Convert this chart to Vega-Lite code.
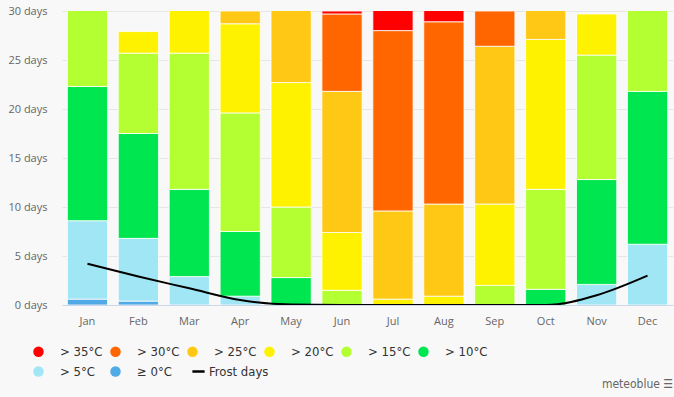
{
  "$schema": "https://vega.github.io/schema/vega-lite/v6.json",
  "width": 611,
  "height": 294,
  "autosize": {"type": "none"},
  "padding": {"left": 62, "top": 11, "right": 1, "bottom": 92},
  "background": "#f8f8f8",
  "title": {"text": "meteoblue ☰", "orient": "bottom", "anchor": "end", "fontSize": 12, "fontWeight": "normal", "color": "#666666", "font": "DejaVu Sans Condensed", "offset": 0},
  "config": {
    "view": {"stroke": null},
    "axis": {"labelFont": "Open Sans", "labelFontSize": 11, "labelColor": "#666666"}
  },
  "datasets": {
    "bars": [
      {"month": "Jan", "cat": "≥ 0°C", "ord": 0, "days": 0.6},
      {"month": "Jan", "cat": "> 5°C", "ord": 1, "days": 8.0},
      {"month": "Jan", "cat": "> 10°C", "ord": 2, "days": 13.7},
      {"month": "Jan", "cat": "> 15°C", "ord": 3, "days": 8.7},
      {"month": "Feb", "cat": "≥ 0°C", "ord": 0, "days": 0.4},
      {"month": "Feb", "cat": "> 5°C", "ord": 1, "days": 6.4},
      {"month": "Feb", "cat": "> 10°C", "ord": 2, "days": 10.7},
      {"month": "Feb", "cat": "> 15°C", "ord": 3, "days": 8.2},
      {"month": "Feb", "cat": "> 20°C", "ord": 4, "days": 2.2},
      {"month": "Mar", "cat": "> 5°C", "ord": 1, "days": 2.9},
      {"month": "Mar", "cat": "> 10°C", "ord": 2, "days": 8.9},
      {"month": "Mar", "cat": "> 15°C", "ord": 3, "days": 13.9},
      {"month": "Mar", "cat": "> 20°C", "ord": 4, "days": 5.3},
      {"month": "Apr", "cat": "> 5°C", "ord": 1, "days": 0.9},
      {"month": "Apr", "cat": "> 10°C", "ord": 2, "days": 6.6},
      {"month": "Apr", "cat": "> 15°C", "ord": 3, "days": 12.1},
      {"month": "Apr", "cat": "> 20°C", "ord": 4, "days": 9.1},
      {"month": "Apr", "cat": "> 25°C", "ord": 5, "days": 1.3},
      {"month": "May", "cat": "> 10°C", "ord": 2, "days": 2.8},
      {"month": "May", "cat": "> 15°C", "ord": 3, "days": 7.2},
      {"month": "May", "cat": "> 20°C", "ord": 4, "days": 12.7},
      {"month": "May", "cat": "> 25°C", "ord": 5, "days": 8.3},
      {"month": "Jun", "cat": "> 15°C", "ord": 3, "days": 1.5},
      {"month": "Jun", "cat": "> 20°C", "ord": 4, "days": 5.9},
      {"month": "Jun", "cat": "> 25°C", "ord": 5, "days": 14.4},
      {"month": "Jun", "cat": "> 30°C", "ord": 6, "days": 7.9},
      {"month": "Jun", "cat": "> 35°C", "ord": 7, "days": 0.3},
      {"month": "Jul", "cat": "> 20°C", "ord": 4, "days": 0.6},
      {"month": "Jul", "cat": "> 25°C", "ord": 5, "days": 9.0},
      {"month": "Jul", "cat": "> 30°C", "ord": 6, "days": 18.4},
      {"month": "Jul", "cat": "> 35°C", "ord": 7, "days": 3.0},
      {"month": "Aug", "cat": "> 20°C", "ord": 4, "days": 0.9},
      {"month": "Aug", "cat": "> 25°C", "ord": 5, "days": 9.4},
      {"month": "Aug", "cat": "> 30°C", "ord": 6, "days": 18.6},
      {"month": "Aug", "cat": "> 35°C", "ord": 7, "days": 2.1},
      {"month": "Sep", "cat": "> 15°C", "ord": 3, "days": 2.0},
      {"month": "Sep", "cat": "> 20°C", "ord": 4, "days": 8.3},
      {"month": "Sep", "cat": "> 25°C", "ord": 5, "days": 16.1},
      {"month": "Sep", "cat": "> 30°C", "ord": 6, "days": 3.6},
      {"month": "Oct", "cat": "> 10°C", "ord": 2, "days": 1.6},
      {"month": "Oct", "cat": "> 15°C", "ord": 3, "days": 10.2},
      {"month": "Oct", "cat": "> 20°C", "ord": 4, "days": 15.3},
      {"month": "Oct", "cat": "> 25°C", "ord": 5, "days": 3.9},
      {"month": "Nov", "cat": "> 5°C", "ord": 1, "days": 2.1},
      {"month": "Nov", "cat": "> 10°C", "ord": 2, "days": 10.7},
      {"month": "Nov", "cat": "> 15°C", "ord": 3, "days": 12.7},
      {"month": "Nov", "cat": "> 20°C", "ord": 4, "days": 4.2},
      {"month": "Dec", "cat": "> 5°C", "ord": 1, "days": 6.2},
      {"month": "Dec", "cat": "> 10°C", "ord": 2, "days": 15.6},
      {"month": "Dec", "cat": "> 15°C", "ord": 3, "days": 9.2}
    ],
    "frost": [
      {"month": "Jan", "days": 4.2},
      {"month": "Feb", "days": 2.9},
      {"month": "Mar", "days": 1.7},
      {"month": "Apr", "days": 0.5},
      {"month": "May", "days": 0.05},
      {"month": "Jun", "days": 0},
      {"month": "Jul", "days": 0},
      {"month": "Aug", "days": 0},
      {"month": "Sep", "days": 0},
      {"month": "Oct", "days": 0},
      {"month": "Nov", "days": 1.0},
      {"month": "Dec", "days": 3.0}
    ]
  },
  "encoding": {
    "x": {
      "field": "month", "type": "nominal",
      "sort": ["Jan","Feb","Mar","Apr","May","Jun","Jul","Aug","Sep","Oct","Nov","Dec"],
      "scale": {"paddingInner": 0.21, "paddingOuter": 0.105},
      "axis": {"title": null, "labelAngle": 0, "ticks": false, "domainColor": "#ccd6eb", "labelPadding": 10, "grid": false}
    }
  },
  "layer": [
    {
      "data": {"name": "bars"},
      "mark": {"type": "bar", "clip": true, "stroke": "#ffffff", "strokeWidth": 0.8},
      "encoding": {
        "y": {
          "field": "days", "type": "quantitative", "stack": "zero",
          "scale": {"domain": [0, 30], "nice": false},
          "axis": {"title": null, "values": [0,5,10,15,20,25,30], "labelExpr": "datum.value + ' days'", "domain": false, "ticks": false, "gridColor": "#e6e6e6", "labelPadding": 15}
        },
        "order": {"field": "ord", "type": "quantitative", "sort": "ascending"},
        "color": {
          "field": "cat", "type": "nominal",
          "scale": {
            "domain": ["> 35°C","> 30°C","> 25°C","> 20°C","> 15°C","> 10°C","> 5°C","≥ 0°C"],
            "range": ["#ff0000","#ff6600","#ffc814","#fff200","#b4ff32","#00e650","#a0e6f5","#50aae6"]
          },
          "legend": {
            "title": null,
            "orient": "none",
            "legendX": -30,
            "legendY": 334,
            "direction": "horizontal",
            "columns": 6,
            "gridAlign": "all",
            "columnPadding": 6,
            "rowPadding": 6,
            "symbolType": "circle",
            "symbolSize": 110,
            "symbolStrokeWidth": 0,
            "labelFont": "DejaVu Sans Condensed",
            "labelFontSize": 13,
            "labelColor": "#333333",
            "labelOffset": 15
          }
        }
      }
    },
    {
      "data": {"name": "frost"},
      "mark": {"type": "line", "interpolate": "monotone", "strokeWidth": 2, "clip": true},
      "encoding": {
        "y": {"field": "days", "type": "quantitative"},
        "stroke": {
          "datum": "Frost days",
          "scale": {"domain": ["Frost days"], "range": ["#000000"]},
          "legend": {
            "title": null,
            "orient": "none",
            "legendX": 129,
            "legendY": 353,
            "symbolType": "stroke",
            "symbolSize": 150,
            "symbolStrokeWidth": 2.5,
            "labelFont": "DejaVu Sans Condensed",
            "labelFontSize": 13,
            "labelColor": "#333333",
            "labelOffset": 3
          }
        }
      }
    }
  ]
}
